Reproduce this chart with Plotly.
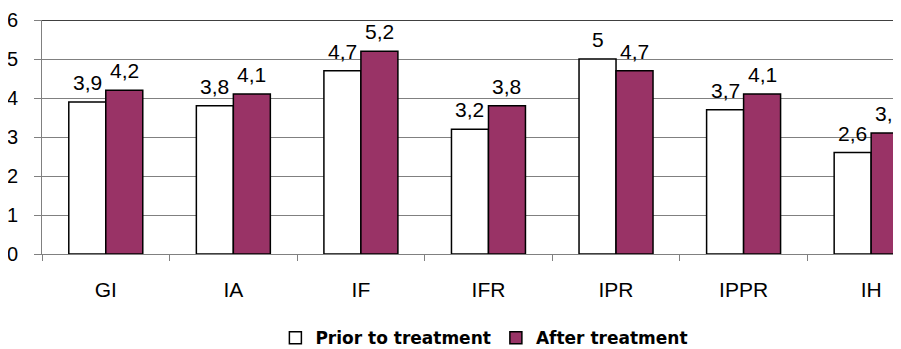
import plotly.graph_objects as go

categories = ["GI", "IA", "IF", "IFR", "IPR", "IPPR", "IH"]
prior = [3.9, 3.8, 4.7, 3.2, 5, 3.7, 2.6]
after = [4.2, 4.1, 5.2, 3.8, 4.7, 4.1, 3.1]
y_ticks = [0, 1, 2, 3, 4, 5, 6]

def fmt(v):
    return f"{v:g}".replace(".", ",")

font = "Liberation Sans, Arial, sans-serif"

fig = go.Figure()
fig.add_trace(go.Bar(
    name="Prior to treatment", x=categories, y=prior,
    marker=dict(color="white", line=dict(color="black", width=1.5)),
))
fig.add_trace(go.Bar(
    name="After treatment", x=categories, y=after,
    marker=dict(color="#993366", line=dict(color="black", width=1.5)),
))

# value labels above each bar (bars in a group are offset by half a bar width)
half_bar_px = 18.5
for series, shift in ((prior, -half_bar_px), (after, half_bar_px)):
    for c, v in zip(categories, series):
        fig.add_annotation(x=c, y=v, xref="x", yref="y", text=fmt(v),
                           showarrow=False, xanchor="center", yanchor="bottom",
                           xshift=shift, yshift=6,
                           font=dict(family=font, size=21, color="black"))

fig.add_shape(type="line", xref="paper", yref="y", x0=0, x1=1, y0=6, y1=6,
              line=dict(color="black", width=1.5))

fig.update_layout(
    width=893, height=341,
    margin=dict(l=34, r=0, t=12, b=95, autoexpand=False),
    paper_bgcolor="white", plot_bgcolor="white",
    barmode="group", bargap=0.42, bargroupgap=0,
    font=dict(family=font, size=20, color="black"),
    showlegend=True,
    legend=dict(orientation="h", x=0.515, xanchor="center", y=-0.36, yanchor="middle",
                font=dict(family="DejaVu Sans, sans-serif", size=17, color="black",
                          weight="bold"),
                itemwidth=30, traceorder="normal", tracegroupgap=0),
    xaxis=dict(range=[-0.5, 6.234], showline=True, linecolor="#808080", linewidth=1,
               ticks="outside", tickson="boundaries", ticklen=6, tickcolor="#808080",
               ticklabelstandoff=17, tickfont=dict(family=font, size=21),
               showgrid=False, automargin=False),
    yaxis=dict(range=[0, 6], tickvals=y_ticks, showline=True, linecolor="#808080",
               linewidth=1, ticks="outside", ticklen=7, tickcolor="#808080",
               showgrid=True, gridcolor="#808080", gridwidth=1,
               tickfont=dict(family=font, size=20), zeroline=False,
               automargin=False, ticklabelstandoff=12),
)

fig.write_html("out.html")
